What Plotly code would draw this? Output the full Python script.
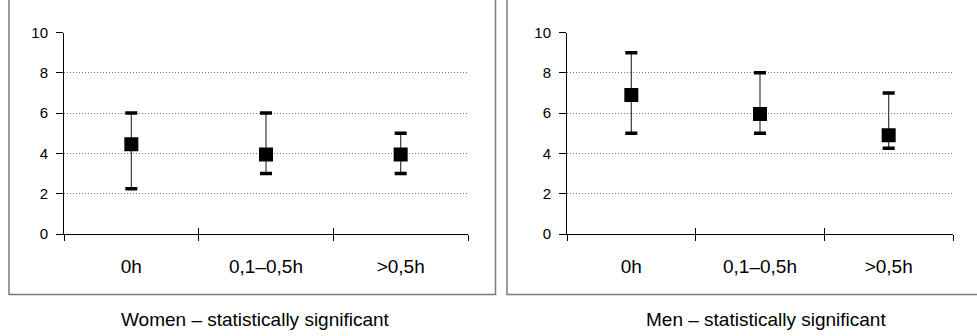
import plotly.graph_objects as go

# ---- data ----
categories = ["0h", "0,1–0,5h", ">0,5h"]
women_mid = [4.45, 3.95, 3.95]
women_low = [2.25, 3.0, 3.0]
women_high = [6.0, 6.0, 5.0]
men_mid = [6.9, 5.95, 4.9]
men_low = [5.0, 5.0, 4.25]
men_high = [9.0, 8.0, 7.0]
panel_titles = ["Women – statistically significant", "Men – statistically significant"]
y_ticks = [0, 2, 4, 6, 8, 10]

W, H = 977, 336
FONT = "Liberation Sans, Arial, sans-serif"

def px_x(p):
    return p / W

def px_y(p):
    return 1 - p / H

fig = go.Figure()

panels = [
    (women_mid, women_low, women_high, "x", "y", "x3"),
    (men_mid, men_low, men_high, "x2", "y2", "x4"),
]

for mid, low, high, xa, ya, xt in panels:
    fig.add_trace(go.Scatter(
        x=categories, y=mid, xaxis=xa, yaxis=ya, mode="markers",
        marker=dict(symbol="square", size=14, color="black", line=dict(width=0)),
        error_y=dict(type="data", symmetric=False,
                     array=[h - m for h, m in zip(high, mid)],
                     arrayminus=[m - l for m, l in zip(mid, low)],
                     thickness=1.2, width=0, color="#3a3a3a"),
        showlegend=False, hoverinfo="skip"))
    fig.add_trace(go.Scatter(
        x=categories * 2, y=low + high, xaxis=xt, yaxis=ya, mode="markers",
        marker=dict(symbol="line-ew", size=8.6, color="black",
                    line=dict(width=3.5, color="black")),
        showlegend=False, hoverinfo="skip"))

y0_px, y10_px = 234, 32.5
ydom = [px_y(y0_px), px_y(y10_px)]
xdoms = [[px_x(64), px_x(468)], [px_x(567), px_x(953)]]
caption_x_px = [255, 766]

def xaxis_main(dom, anchor):
    return dict(domain=dom, anchor=anchor, type="category", categoryorder="array",
                categoryarray=categories, range=[-0.5, 2.5], tickson="boundaries",
                ticks="outside", ticklen=6, tickwidth=1, tickcolor="black",
                showline=True, linecolor="black", linewidth=1, showgrid=False,
                zeroline=False, ticklabelstandoff=15, automargin=False,
                tickfont=dict(family=FONT, size=19, color="black"))

def xaxis_inner(dom, anchor, over):
    return dict(domain=dom, anchor=anchor, overlaying=over, type="category",
                categoryorder="array", categoryarray=categories, range=[-0.5, 2.5],
                tickson="boundaries", ticks="inside", ticklen=6, tickwidth=1,
                tickcolor="black", showline=False, showgrid=False, zeroline=False,
                showticklabels=False, automargin=False)

def yaxis_def(anchor):
    return dict(domain=ydom, anchor=anchor, range=[0, 10], tickvals=y_ticks,
                ticks="outside", ticklen=7, tickwidth=1, tickcolor="black",
                showline=True, linecolor="black", linewidth=1,
                showgrid=True, gridcolor="#707070", griddash="1px,2px", gridwidth=1,
                zeroline=False, ticklabelstandoff=5, automargin=False,
                tickfont=dict(family=FONT, size=15, color="black"))

fig.update_layout(
    width=W, height=H, margin=dict(l=0, r=0, t=0, b=0, pad=0, autoexpand=False),
    paper_bgcolor="white", plot_bgcolor="white",
    xaxis=xaxis_main(xdoms[0], "y"),
    xaxis2=xaxis_main(xdoms[1], "y2"),
    xaxis3=xaxis_inner(xdoms[0], "y", "x"),
    xaxis4=xaxis_inner(xdoms[1], "y2", "x2"),
    yaxis=yaxis_def("x"),
    yaxis2=yaxis_def("x2"),
)

# panel frames (decoration)
frame_col = "#7a7a7a"
fig.add_shape(type="path", xref="paper", yref="paper",
              path=f"M {px_x(9)},1.2 L {px_x(9)},{px_y(294.5)} L {px_x(495.5)},{px_y(294.5)} L {px_x(495.5)},1.2",
              line=dict(color=frame_col, width=1.5))
fig.add_shape(type="path", xref="paper", yref="paper",
              path=f"M {px_x(507)},1.2 L {px_x(507)},{px_y(294.5)} L 1.2,{px_y(294.5)}",
              line=dict(color=frame_col, width=1.5))

for title, cx in zip(panel_titles, caption_x_px):
    fig.add_annotation(text=title, xref="paper", yref="paper",
                       x=px_x(cx), y=px_y(319), xanchor="center", yanchor="middle",
                       showarrow=False, font=dict(family=FONT, size=19, color="black"))

fig.write_html("out.html")
